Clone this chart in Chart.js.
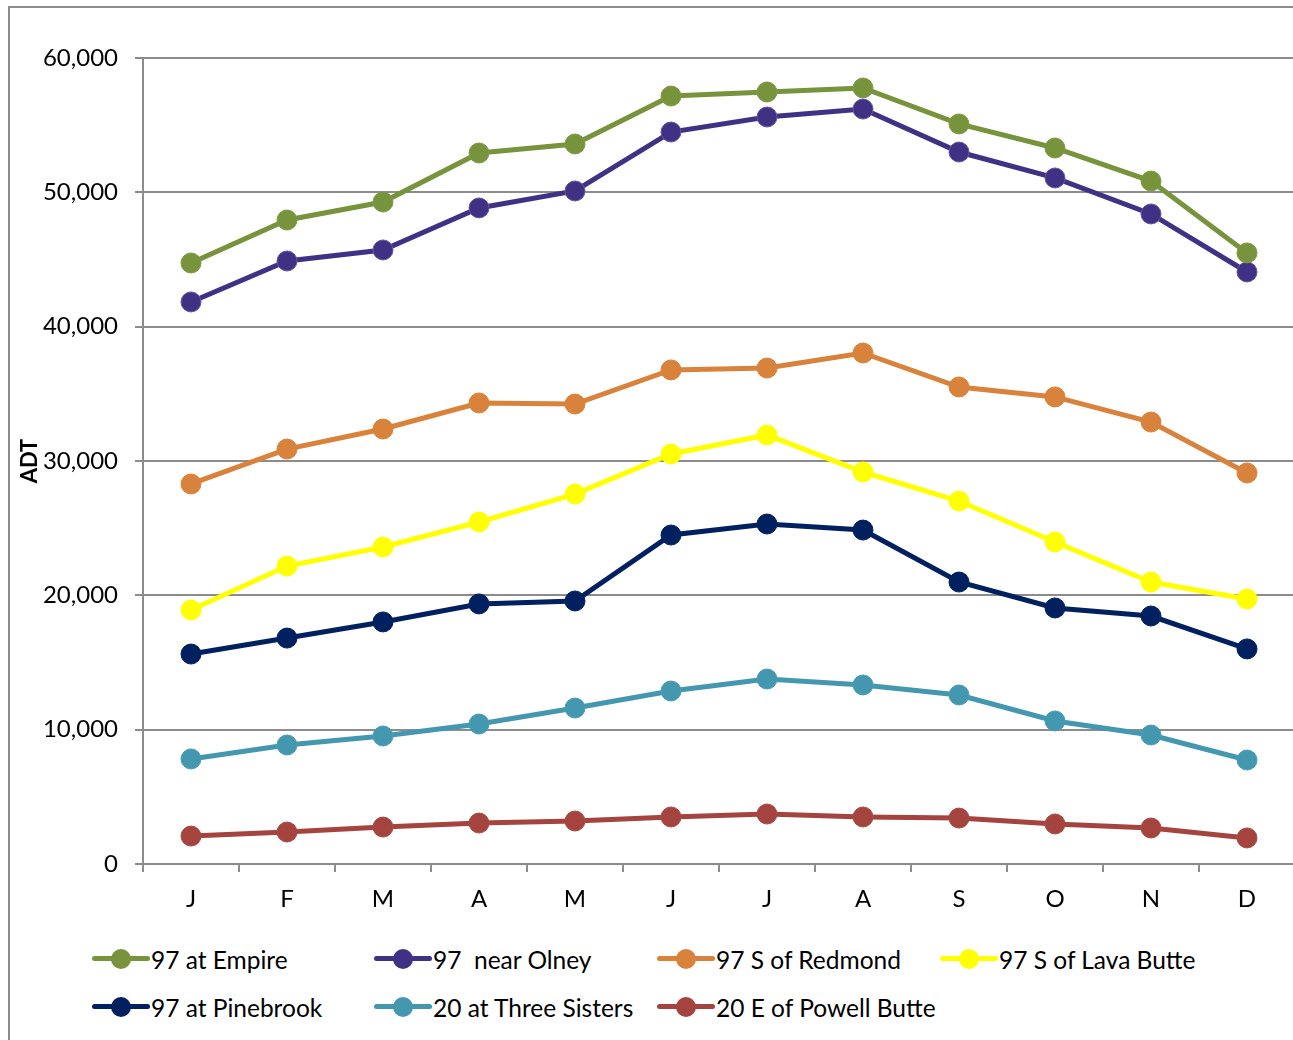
<!DOCTYPE html>
<html lang="en">
  <head>
    <meta charset="UTF-8" />
    <title>ADT by month</title>
    <script src="https://cdn.jsdelivr.net/npm/chart.js@4.4.0/dist/chart.umd.min.js"></script>
    <style>
      html, body { margin: 0; padding: 0; background: #fff; overflow: hidden; }
      body { width: 1293px; height: 1040px; position: relative; font-family: Lato, "Open Sans", sans-serif; }
      #frame { position: absolute; left: 8px; top: 6px; width: 1300px; height: 1100px;
               border-left: 2px solid #8c8c8c; border-top: 2px solid #8c8c8c; }
      #myChart { position: absolute; left: 0; top: 0; }
      #legend { position: absolute; left: 92px; top: 935px; display: grid;
                grid-template-columns: 282px 283px 283px 283px; row-gap: 0; }
      .item { display: flex; align-items: center; height: 48px; font-size: 24.5px; color: #000; white-space: pre; }
      .mark { position: relative; width: 58px; height: 20px; margin-right: 1px; flex: none; }
      .mark .ln { position: absolute; left: 0; right: 0; top: 7px; height: 5px; border-radius: 3px; }
      .mark .dot { position: absolute; left: 19px; top: 0; width: 20px; height: 20px; border-radius: 50%; }
    </style>
  </head>
  <body>
    <div id="frame"></div>
    <canvas id="myChart" width="1306" height="910"></canvas>
    <div id="legend"></div>

    <script>
      const months = ['J', 'F', 'M', 'A', 'M', 'J', 'J', 'A', 'S', 'O', 'N', 'D'];

      const empire      = [44740, 47940, 49280, 52930, 53600, 57170, 57470, 57770, 55090, 53300, 50840, 45490];
      const olney       = [41840, 44890, 45710, 48840, 50100, 54490, 55610, 56200, 53000, 51070, 48390, 44070];
      const redmond     = [28290, 30890, 32380, 34320, 34240, 36780, 36920, 38040, 35510, 34770, 32900, 29110];
      const lavaButte   = [18910, 22180, 23600, 25460, 27540, 30520, 31940, 29180, 27020, 23970, 20990, 19730];
      const pinebrook   = [15630, 16820, 18020, 19360, 19580, 24490, 25310, 24860, 20990, 19060, 18460, 16010];
      const threeSisters = [7820, 8860, 9530, 10420, 11610, 12880, 13770, 13330, 12580, 10650, 9600, 7740];
      const powellButte = [2080, 2380, 2750, 3050, 3200, 3500, 3720, 3500, 3420, 2980, 2680, 1940];

      const yTicks = [0, 10000, 20000, 30000, 40000, 50000, 60000];

      const series = [
        { label: '97 at Empire',         data: empire,       color: '#77933c', rim: '#7f9a46' },
        { label: '97  near Olney',       data: olney,        color: '#403185', rim: '#6656a0' },
        { label: '97 S of Redmond',      data: redmond,      color: '#d9823b', rim: '#d9823b' },
        { label: '97 S of Lava Butte',   data: lavaButte,    color: '#ffff00', rim: '#ffff00' },
        { label: '97 at Pinebrook',      data: pinebrook,    color: '#002060', rim: '#002060' },
        { label: '20 at Three Sisters',  data: threeSisters, color: '#4397af', rim: '#4a9db4' },
        { label: '20 E of Powell Butte', data: powellButte,  color: '#a5443f', rim: '#a94b46' },
      ];

      const gridColor = '#8c8c8c';
      const tickFont = { family: 'Lato', size: 24 };

      const ctx = document.getElementById('myChart').getContext('2d');
      const myChart = new Chart(ctx, {
        type: 'line',
        data: {
          labels: months,
          datasets: series.map(s => ({
            label: s.label,
            data: s.data,
            borderColor: s.color,
            backgroundColor: s.color,
            pointBackgroundColor: s.color,
            pointBorderColor: s.rim,
            pointBorderWidth: 1,
            pointRadius: 10,
            pointHoverRadius: 10,
            borderWidth: 5,
            tension: 0,
            fill: false
          }))
        },
        options: {
          responsive: false,
          animation: false,
          layout: { padding: { top: 58, left: 0, right: 0, bottom: 0 } },
          plugins: {
            legend: { display: false },
            tooltip: { enabled: false }
          },
          scales: {
            x: {
              offset: true,
              grid: {
                offset: true,
                drawOnChartArea: false,
                drawTicks: true,
                tickLength: 8,
                color: gridColor,
                lineWidth: 2
              },
              border: { color: gridColor, width: 2 },
              ticks: { color: '#000', font: tickFont, padding: 13, maxRotation: 0, autoSkip: false },
              afterFit: axis => { axis.height = 910 - 864; }
            },
            y: {
              min: 0,
              max: 60000,
              afterBuildTicks: axis => { axis.ticks = yTicks.map(v => ({ value: v })); },
              grid: { color: gridColor, lineWidth: 2, tickLength: 8 },
              border: { color: gridColor, width: 2 },
              ticks: {
                color: '#000',
                font: tickFont,
                padding: 17,
                callback: v => v.toLocaleString('en-US')
              },
              title: {
                display: true,
                text: 'ADT',
                color: '#000',
                font: { family: 'Lato', size: 22, weight: 'bold' },
                padding: { top: 17, bottom: 0 }
              },
              afterFit: axis => { axis.width = 143; }
            }
          }
        }
      });

      // legend laid out as a fixed 4-column grid
      const legend = document.getElementById('legend');
      myChart.data.datasets.forEach((ds, i) => {
        const item = document.createElement('div');
        item.className = 'item';
        item.innerHTML =
          '<span class="mark"><span class="ln" style="background:' + ds.borderColor + '"></span>' +
          '<span class="dot" style="background:' + ds.pointBackgroundColor + '"></span></span>' +
          '<span></span>';
        item.lastChild.textContent = ds.label;
        legend.appendChild(item);
      });
    </script>
  </body>
</html>
